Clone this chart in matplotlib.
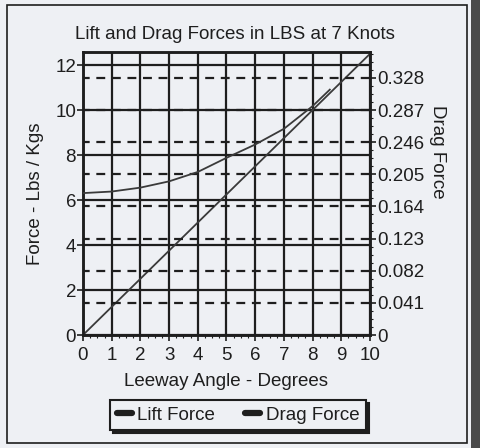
import numpy as np
import matplotlib.pyplot as plt
from matplotlib.patches import Rectangle
from matplotlib.ticker import MultipleLocator, FixedLocator

# leeway angle in degrees and the forces read at each angle
angle = [0, 1, 2, 3, 4, 5, 6, 7, 8, 9, 10]
lift = [0, 1.25, 2.5, 3.75, 5.0, 6.25, 7.5, 8.75, 10.0, 11.25, 12.5]

drag_angle = [0, 1, 2, 3, 4, 5, 6, 7, 8, 8.6]
drag = [0.181, 0.183, 0.188, 0.196, 0.208, 0.226, 0.243, 0.263, 0.292, 0.313]

left_ticks = [0, 2, 4, 6, 8, 10, 12]
right_ticks = [0, 0.041, 0.082, 0.123, 0.164, 0.205, 0.246, 0.287, 0.328]
right_labels = ['0', '0.041', '0.082', '0.123', '0.164', '0.205', '0.246', '0.287', '0.328']

ink = '#1e1e1e'
paper = '#eef0f4'

plt.rcParams['font.family'] = ['Liberation Sans', 'DejaVu Sans']
plt.rcParams['text.color'] = ink
plt.rcParams['axes.labelcolor'] = ink
plt.rcParams['xtick.color'] = ink
plt.rcParams['ytick.color'] = ink

fs = 13.5

fig = plt.figure(figsize=(4.8, 4.48), dpi=100, facecolor=paper)

# outer frame and the dark strip along the right edge
fig.patches.append(Rectangle((7/480, 5/448), 460/480, 438/448, transform=fig.transFigure,
                             fill=False, edgecolor=ink, lw=1.2))
fig.patches.append(Rectangle((471/480, 0), 9/480, 1, transform=fig.transFigure,
                             facecolor='#4a4a4a', edgecolor='none'))

ax = fig.add_axes([83/480, 1-335/448, 287/480, 283/448])
ax.set_facecolor(paper)
ax2 = ax.twinx()

ax.set_xlim(0, 10)
ax.set_ylim(0, 12.58)
ax2.set_ylim(0, 0.361)

# grid: solid for the force axis, dashed for the drag axis
for x in angle:
    ax.axvline(x, color=ink, lw=1.6, zorder=1)
for y in left_ticks:
    ax.axhline(y, color=ink, lw=1.6, zorder=1)
for y in right_ticks[1:]:
    ax2.axhline(y, color=ink, lw=1.6, ls=(1, (4, 3)), zorder=1)

l1, = ax.plot(angle, lift, color='#3a3a3a', lw=1.3, zorder=3)
l2, = ax2.plot(drag_angle, drag, color='#3a3a3a', lw=1.3, zorder=3)

ax.xaxis.set_major_locator(FixedLocator(angle))
ax.xaxis.set_minor_locator(MultipleLocator(0.25))
ax.yaxis.set_major_locator(FixedLocator(left_ticks))
ax2.yaxis.set_major_locator(FixedLocator(right_ticks))
ax2.set_yticklabels(right_labels)
ax2.yaxis.set_minor_locator(MultipleLocator(0.041 / 4))

for a in (ax, ax2):
    for s in a.spines.values():
        s.set_color(ink)
        s.set_linewidth(1.8)
    a.tick_params(which='major', length=4, width=1.2, labelsize=fs, pad=1)
    a.tick_params(which='minor', length=2, width=0.8)
ax.tick_params(axis='x', which='major', pad=5)

ax.set_title('Lift and Drag Forces in LBS at 7 Knots', fontsize=fs, pad=9, x=0.53)
ax.set_xlabel('Leeway Angle - Degrees', fontsize=fs, labelpad=6)
ax.set_ylabel('Force - Lbs / Kgs', fontsize=fs, labelpad=8)
ax2.set_ylabel('Drag Force', fontsize=fs, rotation=270, labelpad=0)
ax2.yaxis.set_label_coords(1.265, 0.647)

h1 = plt.Line2D([], [], color=ink, lw=4.5, solid_capstyle='round')
h2 = plt.Line2D([], [], color=ink, lw=4.5, solid_capstyle='round')
leg = fig.legend([h1, h2], ['Lift Force', 'Drag Force'], loc='center',
                 bbox_to_anchor=(238/480, 1-415/448), ncol=2, fontsize=fs,
                 handlelength=0.8, handletextpad=0.3, columnspacing=1.6,
                 fancybox=False, shadow={'color': ink, 'alpha': 1},
                 borderpad=0.35, borderaxespad=0.3, frameon=True)
leg.get_frame().set_edgecolor(ink)
leg.get_frame().set_linewidth(1.5)
leg.get_frame().set_facecolor(paper)

fig.savefig('out.png', dpi=100, facecolor=paper)
